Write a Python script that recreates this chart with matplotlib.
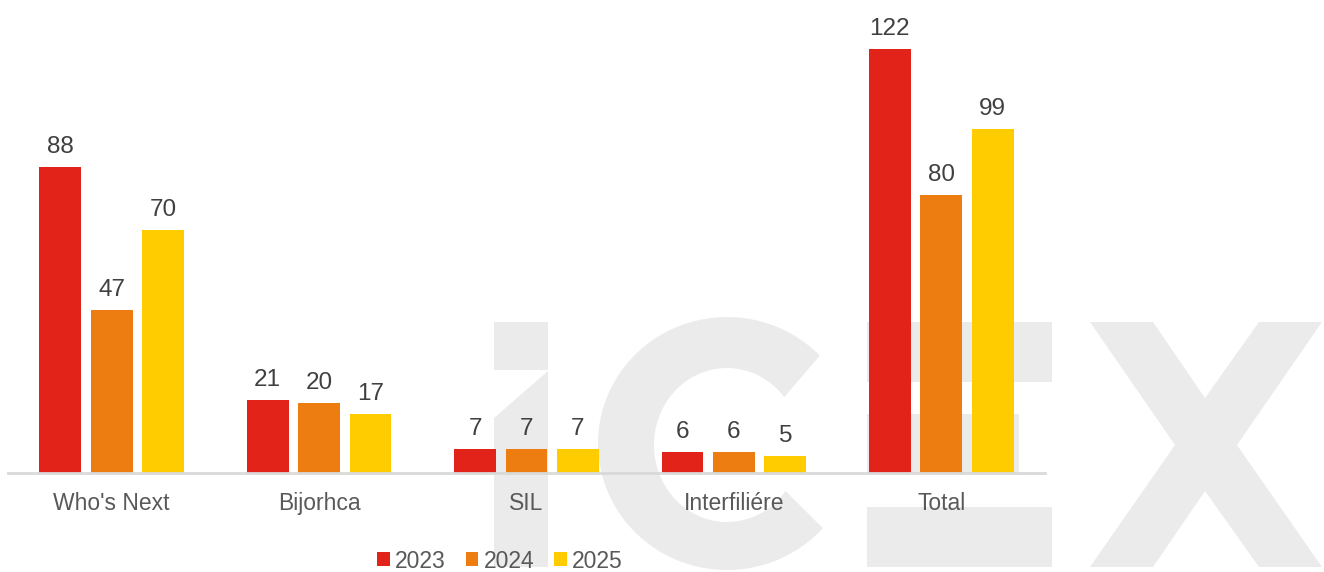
import matplotlib
matplotlib.use("Agg")
import matplotlib.pyplot as plt
import matplotlib.transforms as mtransforms
from matplotlib.patches import Polygon, Rectangle
import numpy as np

categories = ["Who's Next", "Bijorhca", "SIL", "Interfiliére", "Total"]
years = ["2023", "2024", "2025"]
v2023 = [88, 21, 7, 6, 122]
v2024 = [47, 20, 7, 6, 80]
v2025 = [70, 17, 7, 5, 99]
series = [v2023, v2024, v2025]
colors = ["#E2231A", "#EE7D11", "#FFCC00"]

plt.rcParams['font.family'] = ['Liberation Sans', 'DejaVu Sans']

W, H = 1324, 572
fig = plt.figure(figsize=(W / 100, H / 100), dpi=100)
fig.patch.set_facecolor("white")

# ---- background "iCEX" watermark drawn as shapes (pixel coords, top-left origin)
px = mtransforms.Affine2D().scale(1 / W, -1 / H).translate(0, 1) + fig.transFigure
wm = "#EBEBEB"
shapes = []
# i
shapes.append(Rectangle((494, 322), 54, 48))
shapes.append(Polygon([(548, 371), (548, 567), (494, 567), (494, 418)]))
# C
cx, cy = 727, 443.5
t_out = np.radians(np.linspace(44, 318, 120))
t_in = np.radians(np.linspace(323.3, 38.4, 120))
outer = np.column_stack([cx + 129 * np.cos(t_out), cy - 126.5 * np.sin(t_out)])
inner = np.column_stack([cx + 73 * np.cos(t_in), 445 - 77 * np.sin(t_in)])
shapes.append(Polygon(np.vstack([outer, inner])))
# E
shapes.append(Rectangle((867, 322), 185, 60))
shapes.append(Rectangle((867, 414), 152, 59))
shapes.append(Rectangle((867, 507), 185, 60))
# X
shapes.append(Polygon([(1090, 322), (1153, 322), (1205, 398), (1259, 322), (1322, 322),
                       (1237, 445), (1322, 567), (1259, 567), (1205, 491), (1153, 567),
                       (1090, 567), (1175, 445)]))
for s in shapes:
    s.set_transform(px)
    s.set_facecolor(wm)
    s.set_edgecolor("none")
    s.set_zorder(-5)
    fig.add_artist(s)

# ---- chart
ax = fig.add_axes([8 / W, 99 / H, (1045 - 8) / W, 452 / H])
ax.patch.set_alpha(0)
ax.set_zorder(1)

x = np.arange(len(categories))
offsets = [-0.248, 0.0, 0.248]
width = 0.202
for vals, off, col, yr in zip(series, offsets, colors, years):
    bars = ax.bar(x + off, vals, width, color=col, label=yr, zorder=2)
    for b, v in zip(bars, vals):
        ax.annotate(str(v), (b.get_x() + b.get_width() / 2, b.get_height()),
                    xytext=(0, 6.5), textcoords="offset points",
                    ha="center", va="bottom", fontsize=17.5, color="#404040")

ax.set_xlim(-0.5, len(categories) - 0.5)
ax.set_ylim(0, 130)
ax.set_yticks([])
ax.set_xticks(x)
ax.set_xticklabels(categories, fontsize=16.5, color="#595959")
ax.tick_params(axis="x", length=0, pad=14)
for s in ["top", "right", "left"]:
    ax.spines[s].set_visible(False)
ax.spines["bottom"].set_color("#D9D9D9")
ax.spines["bottom"].set_linewidth(2)

leg = fig.legend(loc="center", bbox_to_anchor=(500 / W, 1 - 561 / H),
                 ncol=3, frameon=False, fontsize=16.5, handlelength=0.55,
                 handleheight=0.55, handletextpad=0.25, columnspacing=0.85)
for t in leg.get_texts():
    t.set_color("#595959")

fig.savefig("out.png", dpi=100)
